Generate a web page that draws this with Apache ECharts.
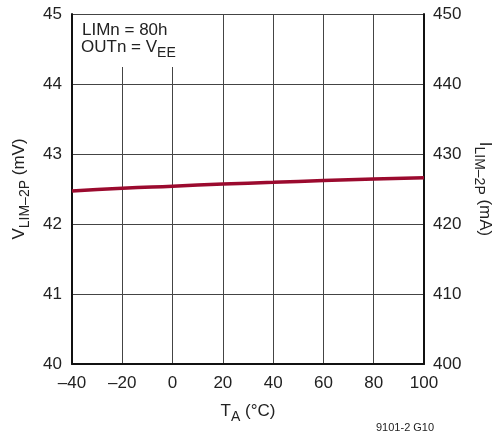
<!DOCTYPE html>
<html><head><meta charset="utf-8">
<script src="https://cdn.jsdelivr.net/npm/echarts@6/dist/echarts.min.js"></script>
<style>html,body{margin:0;padding:0;background:#fff}#c{width:502px;height:437px}</style>
</head><body><div id="c"></div>
<script>
var temps = [-40, -20, 0, 20, 40, 60, 80, 100];
var vlim = [42.47, 42.51, 42.54, 42.57, 42.595, 42.62, 42.643, 42.66];
var xTicks = [-40, -20, 0, 20, 40, 60, 80, 100];
var leftTicks = [40, 41, 42, 43, 44, 45];
var rightTicks = [400, 410, 420, 430, 440, 450];
var FONT = '"Liberation Sans", Arial, sans-serif';
var chart = echarts.init(document.getElementById('c'));
var data = temps.map(function (t, i) { return [t, vlim[i]]; });
var sub = {
  a: {fontSize: 17, fontFamily: FONT, color: '#222', verticalAlign: 'bottom', lineHeight: 20},
  b: {fontSize: 14, fontFamily: FONT, color: '#222', verticalAlign: 'bottom', lineHeight: 16, padding: [0,0,-4,0]}
};
chart.setOption({
  animation: false,
  grid: {left: 72, right: 78, top: 14, bottom: 73},
  xAxis: {
    type: 'value', min: -40, max: 100, interval: 20,
    axisLine: {show: true, onZero: false, lineStyle: {color: '#111', width: 2}},
    axisTick: {show: false},
    splitLine: {show: true, lineStyle: {color: '#444', width: 1}},
    axisLabel: {color: '#222', fontSize: 17, fontFamily: FONT, margin: 11,
      formatter: function (v) { return String(v).replace('-', '\u2013'); }},
    name: '{a|T}{b|A}{a| (°C)}', nameLocation: 'middle', nameGap: 36,
    nameTextStyle: {rich: sub}
  },
  yAxis: [{
    type: 'value', min: 40, max: 45, interval: 1, position: 'left',
    axisLine: {show: true, onZero: false, lineStyle: {color: '#111', width: 2}},
    axisTick: {show: false},
    splitLine: {show: true, lineStyle: {color: '#444', width: 1}},
    axisLabel: {color: '#222', fontSize: 17, fontFamily: FONT, margin: 10},
    name: '{a|V}{b|LIM–2P}{a| (mV)}', nameLocation: 'middle', nameGap: 40, nameRotate: 90,
    nameTextStyle: {rich: sub}
  }, {
    type: 'value', min: 400, max: 450, interval: 10, position: 'right',
    axisLine: {show: true, onZero: false, lineStyle: {color: '#111', width: 2}},
    axisTick: {show: false},
    splitLine: {show: false},
    axisLabel: {color: '#222', fontSize: 17, fontFamily: FONT, margin: 9},
    name: '{a|I}{b|LIM–2P}{a| (mA)}', nameLocation: 'middle', nameGap: 51, nameRotate: -90,
    nameTextStyle: {rich: sub}
  }],
  graphic: [
    {type: 'rect', z: 10, shape: {x: 73, y: 15, width: 142, height: 52}, style: {fill: '#fff'}},
    {type: 'text', z: 11, left: 82, top: 22, style: {text: 'LIMn = 80h', font: '17px ' + FONT, fill: '#222'}},
    {type: 'text', z: 11, left: 81, top: 39, style: {
      text: '{a|OUTn = V}{b|EE}', rich: sub, fill: '#222'}},
    {type: 'text', z: 11, left: 376, top: 422, style: {text: '9101-2 G10', font: '11px ' + FONT, fill: '#222'}}
  ],
  series: [{
    type: 'line', data: data, yAxisIndex: 0, smooth: true, showSymbol: false,
    lineStyle: {color: '#9b0a2e', width: 3.5}
  }]
});
</script></body></html>
